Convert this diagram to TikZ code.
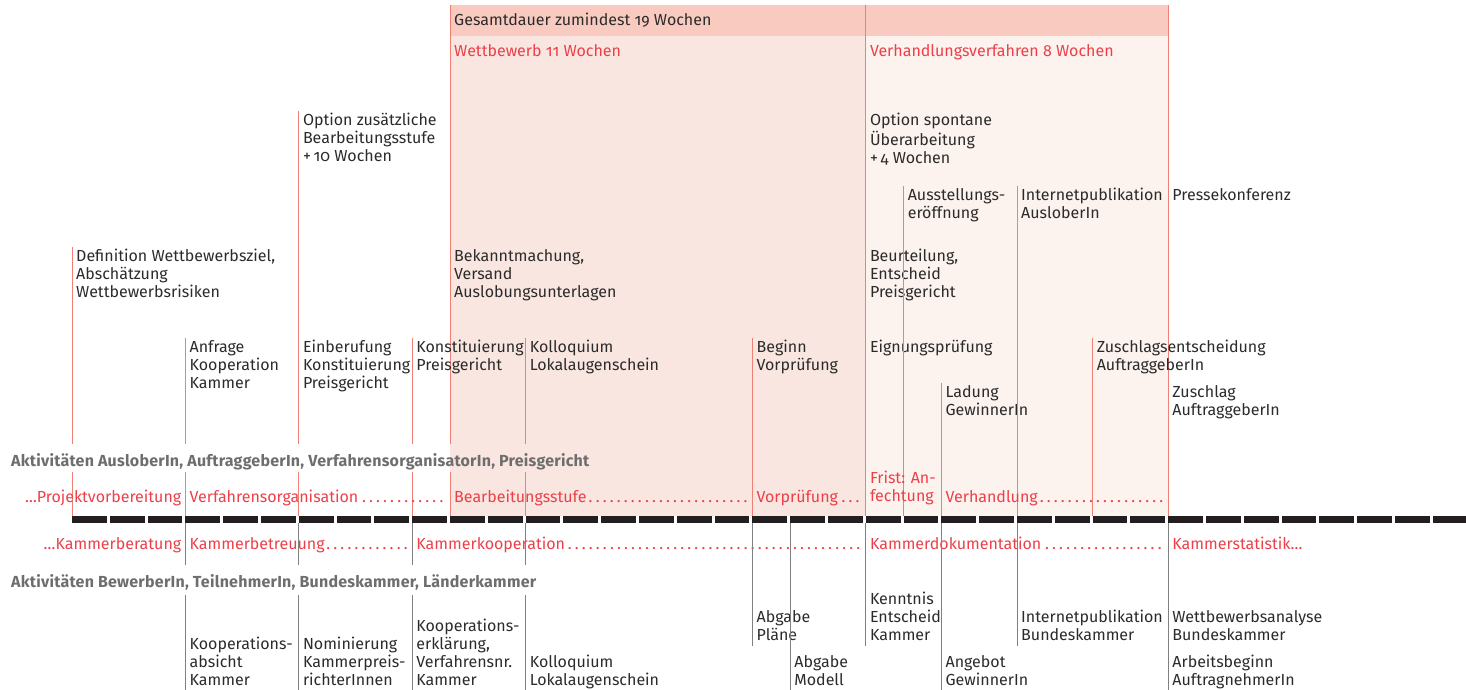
\documentclass[tikz,border=0pt]{standalone}
\usepackage{fontspec}
\setmainfont{Fira Sans}[Numbers=OldStyle]
\usepackage{tikz}
\definecolor{txtdark}{HTML}{2B2B2B}
\definecolor{txtred}{HTML}{EC4049}
\definecolor{headgrey}{HTML}{6E6E6E}
\definecolor{upcol}{HTML}{F08076}
\definecolor{lowcol}{HTML}{808080}
\definecolor{bandfill}{HTML}{F9CBC0}
\definecolor{wbfill}{HTML}{FAE6E0}
\definecolor{vvfill}{HTML}{FCF2EE}
\definecolor{barcol}{HTML}{231F20}
\newcommand{\evtfont}{\fontsize{16}{18}\selectfont}
\newcommand{\headfont}{\fontsize{16}{18}\selectfont\bfseries\addfontfeatures{LetterSpace=1.5}}

\tikzset{
	evt/.style={anchor=north west, align=left, inner xsep=4pt, inner ysep=0pt, font=\evtfont, text=txtdark},
	phase/.style={anchor=base west, inner xsep=4pt, inner ysep=0pt, font=\evtfont, text=txtred},
	head/.style={anchor=base west, inner sep=0pt, font=\headfont, text=headgrey},
	upline/.style={draw=upcol, line width=1pt},
	lowline/.style={draw=lowcol, line width=1pt}
}

\begin{document}
\begin{tikzpicture}[x=1pt, y=-1pt]
	\useasboundingbox (0,0) rectangle (1466,690);
	
	% Wettbewerb / Verhandlungsverfahren
	\fill[wbfill] (450,36) rectangle (865.8,516);
	\fill[vvfill] (865.8,36) rectangle (1168.2,516);
	\fill[bandfill] (450,5) rectangle (1168.2,36);
	
	\coordinate (wbL) at (450,5);
	\coordinate (wbR) at (865.8,5);
	\coordinate (vvR) at (1168.2,5);
	\coordinate (barT) at (0,516);
	\coordinate (barB) at (0,523);
	\coordinate (hAo) at (0,444);
	\coordinate (hAu) at (0,472);
	\coordinate (hBo) at (0,565);
	\coordinate (hBu) at (0,595);
	\coordinate (unten) at (0,690);
	
	\node[evt] (gesamt) at (450,12.4) {\strut Gesamtdauer zumindest 19 Wochen};
	\node[evt, text=txtred] (wb) at (450,43.4) {\strut Wettbewerb 11 Wochen};
	\node[evt, text=txtred] (vv) at (865.8,43.4) {\strut Verhandlungsverfahren 8 Wochen};
	
	\draw[upline] (wbL) -- (wbL |- hAo) (wbL |- hAu) -- (wbL |- barT);
	\draw[upline] (wbR) -- (wbR |- barT);
	\draw[upline] (vvR) -- (vvR |- barT);
	
	% AusloberIn, AuftraggeberIn
	\node[evt] (defin) at (72,248.4) {\strut Definition Wettbewerbsziel,\\Abschätzung\\Wettbewerbsrisiken};
	\node[evt] (anfrage) at (185.4,339.4) {\strut Anfrage\\Kooperation\\Kammer};
	\node[evt] (optzus) at (298.8,112.4) {\strut Option zusätzliche\\Bearbeitungsstufe\\+\,10 Wochen};
	\node[evt] (einber) at (298.8,339.4) {\strut Einberufung\\Konstituierung\\Preisgericht};
	\node[evt] (konst) at (412.2,339.4) {\strut Konstituierung\\Preisgericht};
	\node[evt] (bekannt) at (450,248.4) {\strut Bekanntmachung,\\Versand\\Auslobungsunterlagen};
	\node[evt] (kollA) at (525.6,339.4) {\strut Kolloquium\\Lokalaugenschein};
	\node[evt] (vorpr) at (752.4,339.4) {\strut Beginn\\Vorprüfung};
	\node[evt] (optspont) at (865.8,112.4) {\strut Option spontane\\Überarbeitung\\+\,4 Wochen};
	\node[evt] (beurt) at (865.8,248.4) {\strut Beurteilung,\\Entscheid\\Preisgericht};
	\node[evt] (eignung) at (865.8,339.4) {\strut Eignungsprüfung};
	\node[evt] (ausst) at (903.6,187.4) {\strut Ausstellungs-\\eröffnung};
	\node[evt] (ladung) at (941.4,384.4) {\strut Ladung\\GewinnerIn};
	\node[evt] (inetA) at (1017,187.4) {\strut Internetpublikation\\AusloberIn};
	\node[evt] (zsent) at (1092.6,339.4) {\strut Zuschlagsentscheidung\\AuftraggeberIn};
	\node[evt] (presse) at (1168.2,187.4) {\strut Pressekonferenz};
	\node[evt] (zuschlag) at (1168.2,384.4) {\strut Zuschlag\\AuftraggeberIn};
	
	\foreach \n in {defin, anfrage, optzus, konst, kollA}
		\draw[upline] ([yshift=1.5pt]\n.north west) -- (\n.north west |- hAo) (\n.north west |- hAu) -- (\n.north west |- barT);
	\foreach \n in {vorpr, ausst, ladung, inetA, zsent}
		\draw[upline] ([yshift=1.5pt]\n.north west) -- (\n.north west |- barT);
	
	\node[head] (kopfA) at (11,466) {Aktivitäten AusloberIn, AuftraggeberIn, VerfahrensorganisatorIn, Preisgericht};
	
	% Phasen
	\node[phase, anchor=base east] (projekt) at (185.4,502) {…Projektvorbereitung};
	\node[phase] (verforg) at (185.4,502) {\makebox[257.6pt][l]{Verfahrensorganisation\dotfill}};
	\node[phase] (bearb) at (450,502) {\makebox[295.4pt][l]{Bearbeitungsstufe\dotfill}};
	\node[phase] (vorphase) at (752.4,502) {\makebox[106.4pt][l]{Vorprüfung\dotfill}};
	\node[evt, text=txtred] (frist) at (865.8,470.4) {\strut Frist: An-\\fechtung};
	\node[phase] (verh) at (941.4,502) {\makebox[219.8pt][l]{Verhandlung\dotfill}};
	
	\foreach \k in {0,...,36}
		\fill[barcol] ({72+37.8*\k},516) rectangle ++(34.8,7);
	
	\node[phase, anchor=base east] (beratung) at (185.4,549) {…Kammerberatung};
	\node[phase] (betreu) at (185.4,549) {\makebox[219.8pt][l]{Kammerbetreuung\dotfill}};
	\node[phase] (koop) at (412.2,549) {\makebox[446.6pt][l]{Kammerkooperation\dotfill}};
	\node[phase] (doku) at (865.8,549) {\makebox[295.4pt][l]{Kammerdokumentation\dotfill}};
	\node[phase] (statistik) at (1168.2,549) {Kammerstatistik…};
	
	% BewerberIn, TeilnehmerIn, Kammer
	\node[head] (kopfB) at (11,587) {Aktivitäten BewerberIn, TeilnehmerIn, Bundeskammer, Länderkammer};
	
	\node[evt] (koopab) at (185.4,636.4) {\strut Kooperations-\\absicht\\Kammer};
	\node[evt] (nomin) at (298.8,636.4) {\strut Nominierung\\Kammerpreis-\\richterInnen};
	\node[evt] (kooperkl) at (412.2,618.4) {\strut Kooperations-\\erklärung,\\Verfahrensnr.\\Kammer};
	\node[evt] (kollB) at (525.6,654.4) {\strut Kolloquium\\Lokalaugenschein};
	\node[evt] (plaene) at (752.4,609.4) {\strut Abgabe\\Pläne};
	\node[evt] (modell) at (790.2,654.4) {\strut Abgabe\\Modell};
	\node[evt] (kenntnis) at (865.8,591.4) {\strut Kenntnis\\Entscheid\\Kammer};
	\node[evt] (angebot) at (941.4,654.4) {\strut Angebot\\GewinnerIn};
	\node[evt] (inetB) at (1017,609.4) {\strut Internetpublikation\\Bundeskammer};
	\node[evt] (analyse) at (1168.2,609.4) {\strut Wettbewerbsanalyse\\Bundeskammer};
	\node[evt] (arbeit) at (1168.2,654.4) {\strut Arbeitsbeginn\\AuftragnehmerIn};
	
	\foreach \n in {koopab, nomin, kooperkl, kollB}
		\draw[lowline] (\n.north west |- barB) -- (\n.north west |- hBo) (\n.north west |- hBu) -- (\n.north west |- unten);
	\foreach \n in {plaene, kenntnis, inetB}
		\draw[lowline] (\n.north west |- barB) -- ([yshift=-5pt]\n.south west);
	\foreach \n in {modell, angebot, arbeit}
		\draw[lowline] (\n.north west |- barB) -- (\n.north west |- unten);
\end{tikzpicture}
\end{document}
